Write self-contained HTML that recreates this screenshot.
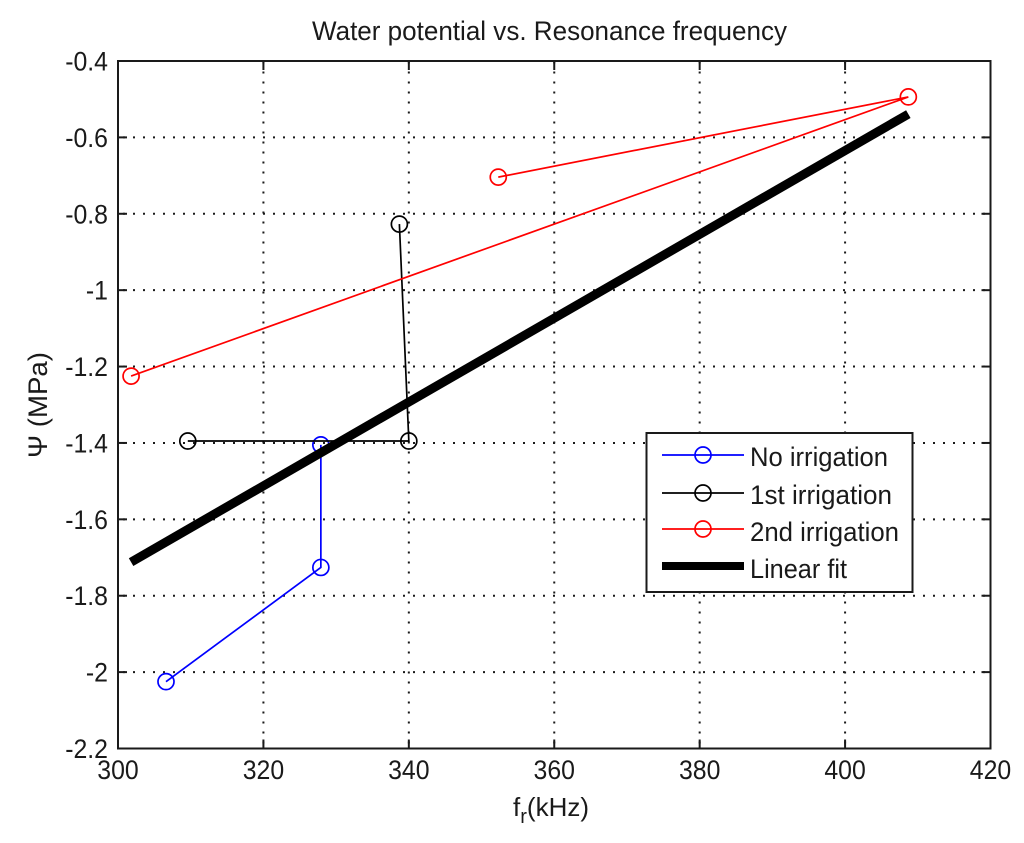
<!DOCTYPE html>
<html>
<head>
<meta charset="utf-8">
<title>Water potential vs. Resonance frequency</title>
<style>
html,body{margin:0;padding:0;background:#fff;}
svg{display:block;}
text{font-family:"Liberation Sans",sans-serif;fill:#1a1a1a;}
</style>
</head>
<body>
<svg id="chart" xmlns="http://www.w3.org/2000/svg" width="1024" height="843" viewBox="0 0 1024 843">
  <rect x="0" y="0" width="1024" height="843" fill="#fff"/>
  <g id="grid"></g>
  <g id="ticks"></g>
  <g id="series"></g>
  <rect x="118" y="61" width="872.5" height="687.5" fill="none" stroke="#1a1a1a" stroke-width="2"/>
  <g id="labels"></g>
  <text x="0" y="0" font-size="27" text-anchor="middle" textLength="475" lengthAdjust="spacingAndGlyphs" transform="translate(549.5,40)">Water potential vs. Resonance frequency</text>
  <text font-size="26" transform="translate(513,816)">f<tspan font-size="20" dy="7">r</tspan><tspan dy="-7">(kHz)</tspan></text>
  <text font-size="27" text-anchor="middle" textLength="106" lengthAdjust="spacingAndGlyphs" transform="translate(47,405) rotate(-90)">Ψ (MPa)</text>
  <g id="legend">
    <rect x="646.5" y="433" width="266" height="159" fill="#fff" stroke="#1a1a1a" stroke-width="2"/>
    <g>
      <line x1="662" y1="455" x2="744" y2="455" stroke="#0000ff" stroke-width="1.7"/>
      <circle cx="703" cy="455" r="8" fill="none" stroke="#0000ff" stroke-width="1.7"/>
      <text font-size="27" textLength="138" lengthAdjust="spacingAndGlyphs" x="750" y="466">No irrigation</text>
    </g>
    <g>
      <line x1="662" y1="493" x2="744" y2="493" stroke="#000" stroke-width="1.7"/>
      <circle cx="703" cy="493" r="8" fill="none" stroke="#000" stroke-width="1.7"/>
      <text font-size="27" textLength="142" lengthAdjust="spacingAndGlyphs" x="750" y="504">1st irrigation</text>
    </g>
    <g>
      <line x1="662" y1="529" x2="744" y2="529" stroke="#ff0000" stroke-width="1.7"/>
      <circle cx="703" cy="529" r="8" fill="none" stroke="#ff0000" stroke-width="1.7"/>
      <text font-size="27" textLength="149" lengthAdjust="spacingAndGlyphs" x="750" y="541">2nd irrigation</text>
    </g>
    <g>
      <line x1="662" y1="566" x2="744" y2="566" stroke="#000" stroke-width="8"/>
      <text font-size="27" textLength="97" lengthAdjust="spacingAndGlyphs" x="750" y="578">Linear fit</text>
    </g>
  </g>
</svg>
<script>
var xTicks = [300, 320, 340, 360, 380, 400, 420];
var yTicks = [-0.4, -0.6, -0.8, -1, -1.2, -1.4, -1.6, -1.8, -2, -2.2];
var noIrrigationX = [306.6, 327.9, 327.9];
var noIrrigationY = [-2.025, -1.726, -1.405];
var firstIrrigationX = [309.6, 340.0, 338.7];
var firstIrrigationY = [-1.395, -1.395, -0.827];
var secondIrrigationX = [301.8, 408.7, 352.3];
var secondIrrigationY = [-1.225, -0.494, -0.704];
var fitX = [301.8, 408.7];
var fitY = [-1.712, -0.539];

var NS = 'http://www.w3.org/2000/svg';
var left = 118, right = 990.5, top_ = 61, bottom = 748.5;
function sx(v) { return left + (v - 300) / 120 * (right - left); }
function sy(v) { return top_ + (-0.4 - v) / 1.8 * (bottom - top_); }
function make(tag, attrs, parent) {
  var el = document.createElementNS(NS, tag);
  for (var k in attrs) el.setAttribute(k, attrs[k]);
  parent.appendChild(el);
  return el;
}
var gGrid = document.getElementById('grid');
var gTicks = document.getElementById('ticks');
var gLabels = document.getElementById('labels');
var gSeries = document.getElementById('series');

xTicks.forEach(function (t) {
  var x = sx(t);
  var grid = make('line', {x1: x, y1: bottom, x2: x, y2: top_, stroke: '#1a1a1a', 'stroke-width': 2, 'stroke-dasharray': '2 8', 'stroke-dashoffset': -5}, gGrid);
  
  
  var t1 = make('line', {x1: x, y1: bottom, x2: x, y2: bottom - 9, stroke: '#1a1a1a', 'stroke-width': 2}, gTicks);
  
  
  var t2 = make('line', {x1: x, y1: top_, x2: x, y2: top_ + 9, stroke: '#1a1a1a', 'stroke-width': 2}, gTicks);
  
  
  var lab = make('text', {'font-size': 27, 'text-anchor': 'middle', transform: 'translate(' + x + ',779) scale(0.92,1)'}, gLabels);
  lab.textContent = String(t);
  
  
});

yTicks.forEach(function (t) {
  var y = sy(t);
  var grid = make('line', {x1: left, y1: y, x2: right, y2: y, stroke: '#1a1a1a', 'stroke-width': 2, 'stroke-dasharray': '2 8', 'stroke-dashoffset': -5}, gGrid);
  
  
  var t1 = make('line', {x1: left, y1: y, x2: left + 9, y2: y, stroke: '#1a1a1a', 'stroke-width': 2}, gTicks);
  
  
  var t2 = make('line', {x1: right, y1: y, x2: right - 9, y2: y, stroke: '#1a1a1a', 'stroke-width': 2}, gTicks);
  
  
  var lab = make('text', {'font-size': 27, 'text-anchor': 'end', transform: 'translate(108,' + (y + 9.5) + ') scale(0.92,1)'}, gLabels);
  lab.textContent = String(t);
  
  
});

function pointsOf(xs, ys) {
  return xs.map(function (v, i) { return sx(v) + ',' + sy(ys[i]); }).join(' ');
}
function drawSeries(xs, ys, color, name) {
  var line = make('polyline', {points: pointsOf(xs, ys), fill: 'none', stroke: color, 'stroke-width': 1.7}, gSeries);
  
  
  xs.forEach(function (v, i) {
    var c = make('circle', {cx: sx(v), cy: sy(ys[i]), r: 8, fill: 'none', stroke: color, 'stroke-width': 1.7}, gSeries);
    
    
  });
}
drawSeries(noIrrigationX, noIrrigationY, '#0000ff', 'no-irrigation');
drawSeries(firstIrrigationX, firstIrrigationY, '#000000', 'first-irrigation');
drawSeries(secondIrrigationX, secondIrrigationY, '#ff0000', 'second-irrigation');
var fit = make('polyline', {points: pointsOf(fitX, fitY), fill: 'none', stroke: '#000', 'stroke-width': 9}, gSeries);


</script>
</body>
</html>
